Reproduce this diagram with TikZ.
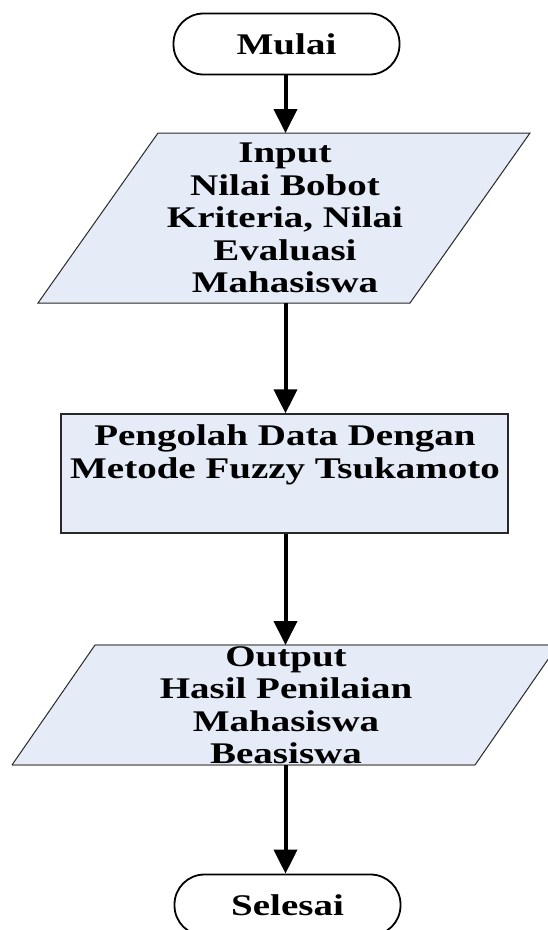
\documentclass[tikz,border=0pt]{standalone}
\usepackage{fontspec}
\setmainfont{Liberation Serif}[FakeStretch=1.3]
\usetikzlibrary{arrows.meta}
\definecolor{boxfill}{RGB}{230,236,247}
\definecolor{edgedark}{RGB}{40,40,40}
\definecolor{edgegray}{RGB}{140,140,140}
\tikzset{
  lbl/.style={align=center, inner sep=0pt, font=\fontsize{30}{32.5}\selectfont\bfseries},
  term/.style={draw=black, line width=1.8pt, rounded corners=30pt, minimum width=226pt, minimum height=61pt, inner sep=0pt, font=\fontsize{30}{32.5}\selectfont\bfseries},
  procbox/.style={draw=edgedark, fill=boxfill, line width=1.3pt, minimum width=447pt, minimum height=119pt, inner sep=0pt},
  para/.style={fill=boxfill},
  flow/.style={line width=4pt, -{Triangle[width=23pt,length=24pt]}}
}
\begin{document}
\begin{tikzpicture}[x=1pt,y=-1pt]
\useasboundingbox (0,0) rectangle (547,930);
% Start
\node[term] (mulai) at (286.5,44) {Mulai};
% Input parallelogram
\fill[para] (158,133) -- (530,133) -- (410,303) -- (38,303) -- cycle;
\draw[edgedark, line width=1pt] (158,133) -- (530,133) -- (410,303) -- (38,303) -- cycle;
\coordinate (inT) at (285.5,133);
\coordinate (inB) at (285.5,303);
\node[lbl] (inp) at (285,218) {Input\\Nilai Bobot\\Kriteria, Nilai\\Evaluasi\\Mahasiswa};
% Process
\node[procbox] (proc) at (284.5,473.5) {};
\node[lbl] (proctext) at (285,455) {Pengolah Data Dengan\\Metode Fuzzy Tsukamoto};
% Output parallelogram
\fill[para] (95,645) -- (558,645) -- (475,765) -- (12,765) -- cycle;
\draw[edgegray, line width=1.3pt] (95,645) -- (558,645);
\draw[edgegray, line width=1.3pt] (12,765) -- (475,765);
\draw[edgedark, line width=1pt] (95,645) -- (12,765);
\draw[edgedark, line width=1pt] (558,645) -- (475,765);
\coordinate (outT) at (285.5,645);
\coordinate (outB) at (285.5,765);
\node[lbl] (outp) at (286,705) {Output\\Hasil Penilaian\\Mahasiswa\\Beasiswa};
% End
\node[term] (selesai) at (287.5,905) {Selesai};
% Connectors
\draw[flow] (mulai.south -| inT) -- (inT);
\draw[flow] (inB) -- (inB |- proc.north);
\draw[flow] (inB |- proc.south) -- (outT);
\draw[flow] (outB) -- (outB |- selesai.north);
\end{tikzpicture}
\end{document}
